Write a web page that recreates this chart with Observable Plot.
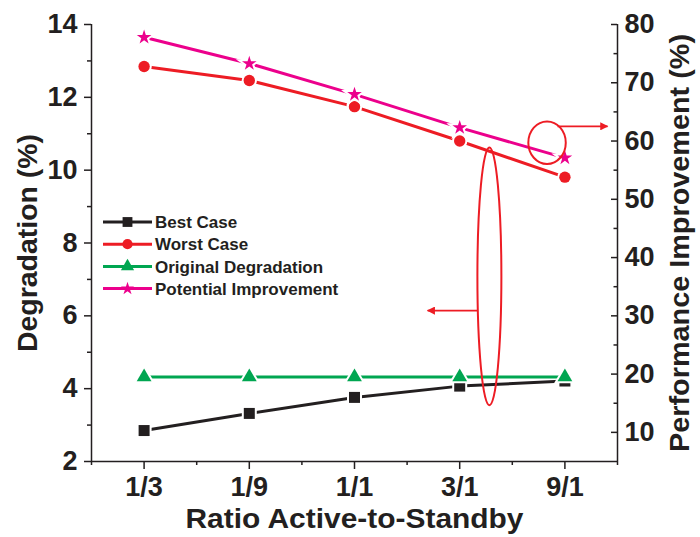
<!DOCTYPE html>
<html><head><meta charset="utf-8">
<script src="https://cdn.jsdelivr.net/npm/d3@7"></script>
<script src="https://cdn.jsdelivr.net/npm/@observablehq/plot@0.6"></script>
<style>body{margin:0;background:#fff}</style>
</head><body><div id="chart"></div>
<script>
const categories = ["1/3", "1/9", "1/1", "3/1", "9/1"];
const bestCase = [2.85, 3.32, 3.76, 4.07, 4.21];
const worstCase = [72.8, 70.4, 65.9, 60.0, 53.8];
const originalDegradation = [4.32, 4.32, 4.32, 4.32, 4.32];
const potentialImprovement = [77.8, 73.3, 68.0, 62.3, 57.1];
const seriesNames = ["Best Case", "Worst Case", "Original Degradation", "Potential Improvement"];
const leftTicks = [2, 4, 6, 8, 10, 12, 14];
const leftMinor = [3, 5, 7, 9, 11, 13];
const rightTicks = [10, 20, 30, 40, 50, 60, 70, 80];
const rightMinor = [15, 25, 35, 45, 55, 65, 75];
const leftDomain = [2, 14];
const rightDomain = [5, 80];
const titles = {x: "Ratio Active-to-Standby", left: "Degradation (%)", right: "Performance Improvement (%)"};

const toLeft = v => leftDomain[0] + (v - rightDomain[0]) * (leftDomain[1] - leftDomain[0]) / (rightDomain[1] - rightDomain[0]);
const fromLeft = v => rightDomain[0] + (v - leftDomain[0]) * (rightDomain[1] - rightDomain[0]) / (leftDomain[1] - leftDomain[0]);

const ink = "#231f20";
const series = [
  {name: seriesNames[0], values: bestCase, axis: "left", color: ink, symbol: "square", r: 6.2},
  {name: seriesNames[1], values: worstCase, axis: "right", color: "#ed1c24", symbol: "circle", r: 5.7},
  {name: seriesNames[2], values: originalDegradation, axis: "left", color: "#00a651", symbol: "triangle", r: 5.5},
  {name: seriesNames[3], values: potentialImprovement, axis: "right", color: "#ec008c", symbol: "star", r: 4.6}
];
const rowsOf = s => s.values.map((v, i) => ({series: s.name, i: i + 1, v, y: s.axis === "left" ? v : toLeft(v)}));

const seriesMarks = series.flatMap(s => [
  Plot.line(rowsOf(s), {x: "i", y: "y", stroke: s.color, strokeWidth: 3}),
  Plot.dot(rowsOf(s), {x: "i", y: "y", symbol: s.symbol, r: s.r, fill: "white", stroke: "white", strokeWidth: 4}),
  Plot.dot(rowsOf(s), {x: "i", y: "y", symbol: s.symbol, r: s.r, fill: s.color, stroke: "none"})
]);

const tickFont = 27;
const titleFont = 28;
const plot = Plot.plot({
  width: 700, height: 537,
  marginLeft: 91, marginRight: 83, marginTop: 24, marginBottom: 76,
  style: {fontFamily: "'Liberation Sans', Arial, sans-serif", fontWeight: "bold", color: ink, background: "white"},
  x: {type: "linear", domain: [0.5, 5.5]},
  y: {domain: leftDomain},
  marks: [
    Plot.ruleX([0.5, 5.5], {stroke: ink, strokeWidth: 1.5}),
    Plot.ruleY([2], {stroke: ink, strokeWidth: 1.5}),
    Plot.axisY({anchor: "left", ticks: leftTicks, tickSize: 7, tickPadding: 7, fontSize: tickFont, label: null, strokeWidth: 1.5}),
    Plot.axisY({anchor: "left", ticks: leftMinor, tickSize: 4, tickFormat: () => "", label: null, strokeWidth: 1.5}),
    Plot.axisY({anchor: "left", frameAnchor: "right", ticks: rightTicks.map(toLeft), tickSize: 6, tickFormat: () => "", label: null, strokeWidth: 1.5}),
    Plot.axisY({anchor: "left", frameAnchor: "right", ticks: rightMinor.map(toLeft), tickSize: 3.5, tickFormat: () => "", label: null, strokeWidth: 1.5}),
    Plot.axisY({anchor: "right", ticks: rightTicks.map(toLeft), tickSize: 0, tickPadding: 7, fontSize: tickFont, label: null,
      tickFormat: d => String(Math.round(fromLeft(d)))}),
    Plot.axisX({anchor: "bottom", ticks: [1, 2, 3, 4, 5], tickSize: 8, tickPadding: 7, fontSize: tickFont, label: null,
      tickFormat: i => categories[Math.round(i) - 1], strokeWidth: 1.5}),
    Plot.axisX({anchor: "bottom", ticks: [0.5, 1.5, 2.5, 3.5, 4.5, 5.5], tickSize: 4, tickFormat: () => "", label: null, strokeWidth: 1.5}),
    Plot.text([titles.left], {frameAnchor: "left", textAnchor: "middle", rotate: -90, dx: -63, fontSize: titleFont, fontWeight: "bold", fill: ink}),
    Plot.text([titles.right], {frameAnchor: "right", textAnchor: "middle", rotate: -90, dx: 63, fontSize: titleFont, fontWeight: "bold", fill: ink}),
    Plot.text([titles.x], {frameAnchor: "bottom", textAnchor: "middle", dy: 66, fontSize: titleFont, fontWeight: "bold", fill: ink}),
    ...seriesMarks
  ]
});

document.getElementById("chart").appendChild(plot);
const svg = d3.select(plot);

// fit title widths to the reference's wide bold face
const titleLengths = {[titles.x]: 338, [titles.left]: 218, [titles.right]: 418};
svg.selectAll("text").each(function () {
  const t = this.textContent;
  if (titleLengths[t]) d3.select(this).attr("textLength", titleLengths[t]).attr("lengthAdjust", "spacingAndGlyphs");
});

// annotations (data units through the plot's scales)
const xs = plot.scale("x"), ys = plot.scale("y");
const X = v => xs.apply(v), Y = v => ys.apply(v);
const red = "#ed1c24";
const defs = svg.append("defs");
defs.append("marker").attr("id", "ah").attr("viewBox", "0 0 10 10").attr("refX", 9).attr("refY", 5)
  .attr("markerWidth", 5).attr("markerHeight", 4.5).attr("orient", "auto-start-reverse")
  .append("path").attr("d", "M0,0L10,5L0,10z").attr("fill", red);

const ann = svg.append("g").attr("fill", "none").attr("stroke", red);
const e1 = {cx: 4.835, cy: 10.74, dx: 0.178, dy: 0.584};
ann.append("ellipse").attr("cx", X(e1.cx)).attr("cy", Y(e1.cy))
  .attr("rx", X(e1.cx + e1.dx) - X(e1.cx)).attr("ry", Y(e1.cy - e1.dy) - Y(e1.cy)).attr("stroke-width", 2);
ann.append("line").attr("x1", X(4.935)).attr("x2", X(5.41)).attr("y1", Y(11.19)).attr("y2", Y(11.19))
  .attr("stroke-width", 1.8).attr("marker-end", "url(#ah)");
const e2 = {cx: 4.287, cy: 7.07, dx: 0.114, dy: 3.54};
ann.append("ellipse").attr("cx", X(e2.cx)).attr("cy", Y(e2.cy))
  .attr("rx", X(e2.cx + e2.dx) - X(e2.cx)).attr("ry", Y(e2.cy - e2.dy) - Y(e2.cy)).attr("stroke-width", 2);
ann.append("line").attr("x1", X(4.176)).attr("x2", X(3.70)).attr("y1", Y(6.13)).attr("y2", Y(6.13))
  .attr("stroke-width", 1.8).attr("marker-end", "url(#ah)");

// legend
const symMap = {square: d3.symbolSquare, circle: d3.symbolCircle, triangle: d3.symbolTriangle, star: d3.symbolStar};
const lg = svg.append("g").attr("text-anchor", "start");
series.forEach((s, k) => {
  const y = 222 + k * 22.2;
  lg.append("line").attr("x1", 103).attr("x2", 152).attr("y1", y).attr("y2", y).attr("stroke", s.color).attr("stroke-width", 3);
  lg.append("path").attr("transform", `translate(127.5,${y})`)
    .attr("d", d3.symbol(symMap[s.symbol], Math.PI * s.r * s.r * 0.8)()).attr("fill", s.color);
  lg.append("text").attr("x", 155).attr("y", y).attr("dy", "0.36em").attr("fill", ink).attr("text-anchor", "start")
    .attr("font-size", 17).attr("font-weight", "bold").text(s.name);
});
</script>
</body></html>
